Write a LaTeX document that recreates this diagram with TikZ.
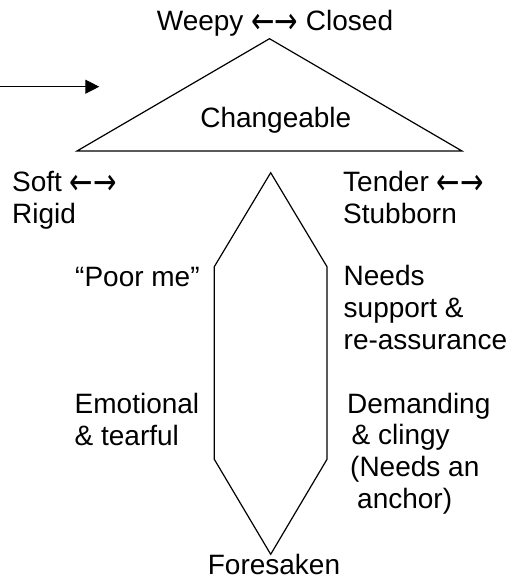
\documentclass[tikz,border=0pt]{standalone}
\usepackage{fontspec}
\setmainfont{Liberation Sans}
\newfontfamily\arrowfont{DejaVu Sans}
\newcommand{\onearr}[1]{\raisebox{-3pt}{\scalebox{1.0}[1.3]{#1}}}
\newcommand{\lrarr}{{\arrowfont\onearr{←}\onearr{→}}}
\usetikzlibrary{arrows.meta}
\begin{document}
\begin{tikzpicture}[x=1pt,y=-1pt,
  lbl/.style={inner sep=0pt, font=\fontsize{28pt}{31.6pt}\selectfont, align=left},
  shapeline/.style={line width=1.2pt, line join=miter},
  pointer/.style={line width=1.2pt, -{Triangle[length=14pt,width=14pt]}}]
\useasboundingbox (0,0) rectangle (516,578);
% shapes
\draw[shapeline] (269.5,38.7) -- (462,151) -- (77,151) -- cycle;
\draw[shapeline] (270.7,172.7) -- (327,266.7) -- (327,459.3) -- (270.7,554.3) -- (214.3,459.3) -- (214.3,266.7) -- cycle;
% arrow
\coordinate (arrS) at (0,86.7);
\coordinate (arrE) at (99.3,86.7);
\draw[pointer] (arrS) -- (arrE);
% labels (multi-line nodes: base = baseline of last line)
\node[lbl, anchor=base] (weepy) at (275,30.7) {Weepy \lrarr{} Closed};
\node[lbl, anchor=base] (change) at (275.8,127.7) {Changeable};
\node[lbl, anchor=base west] (soft) at (12,223.3) {Soft \lrarr\\Rigid};
\node[lbl, anchor=base west] (tender) at (343,223.5) {Tender \lrarr\\Stubborn};
\node[lbl, anchor=base west] (needs) at (343.5,349) {Needs\\support \&\\re-assurance};
\node[lbl, anchor=base west] (poor) at (75,286.7) {“Poor me”};
\node[lbl, anchor=base west] (emo) at (74.5,445) {Emotional\\\& tearful};
\node[lbl, anchor=base west] (dem) at (347,508.1) {Demanding\\\hspace*{4.5pt}\& clingy\\\hspace*{3pt}(Needs an\\\hspace*{10pt}anchor)};
\node[lbl, anchor=base] (fore) at (274,574) {Foresaken};
\end{tikzpicture}
\end{document}
